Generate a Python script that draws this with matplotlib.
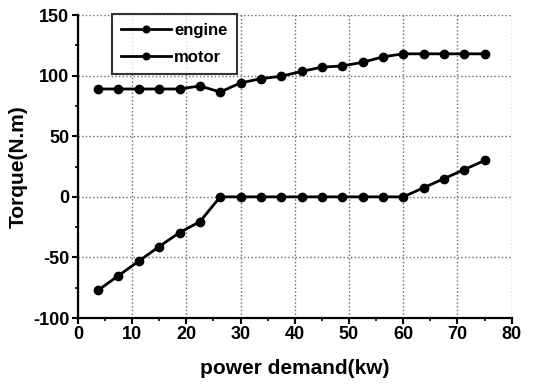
import numpy as np
import matplotlib
matplotlib.use('Agg')
import matplotlib.pyplot as plt
from matplotlib.ticker import MultipleLocator

# power demand (kW), one sample every 3.75 kW
power = [3.75, 7.5, 11.25, 15, 18.75, 22.5, 26.25, 30, 33.75, 37.5,
         41.25, 45, 48.75, 52.5, 56.25, 60, 63.75, 67.5, 71.25, 75]
engine = [89, 89, 89, 89, 89, 91.5, 86.5, 94, 97.5, 99.5,
          103.5, 107, 108, 111, 115.5, 118, 118, 118, 118, 118]
motor = [-77, -65, -53, -41, -29.5, -20.5, 0, 0, 0, 0,
         0, 0, 0, 0, 0, 0, 7.5, 15, 22.5, 30]

plt.rcParams['font.family'] = ['Liberation Sans', 'DejaVu Sans']
plt.rcParams['font.weight'] = 'bold'
plt.rcParams['axes.unicode_minus'] = False

fig = plt.figure(figsize=(5.33, 3.86), dpi=100)
ax = fig.add_axes([0.146, 0.176, 0.814, 0.785])

ax.plot(power, engine, color='k', linewidth=2.0, marker='o', markersize=6, label='engine')
ax.plot(power, motor, color='k', linewidth=2.0, marker='o', markersize=6, label='motor')

ax.set_xlim(0, 80)
ax.set_ylim(-100, 150)
ax.xaxis.set_major_locator(MultipleLocator(10))
ax.xaxis.set_minor_locator(MultipleLocator(5))
ax.yaxis.set_major_locator(MultipleLocator(50))
ax.yaxis.set_minor_locator(MultipleLocator(25))
ax.tick_params(which='major', length=4, width=1.5, labelsize=13, pad=2)
ax.tick_params(which='minor', length=2.5, width=1.2)
for lab in ax.get_xticklabels() + ax.get_yticklabels():
    lab.set_fontweight('bold')

ax.spines['top'].set_visible(False)
ax.spines['right'].set_visible(False)
ax.spines['left'].set_linewidth(1.6)
ax.spines['bottom'].set_linewidth(1.6)

ax.grid(True, which='major', linestyle=':', color='0.4', linewidth=1.0)

ax.set_xlabel('power demand(kw)', fontsize=15, fontweight='bold', labelpad=11)
ax.set_ylabel('Torque(N.m)', fontsize=15, fontweight='bold', labelpad=4)

leg = ax.legend(loc='upper left', bbox_to_anchor=(0.078, 1.005), fontsize=12,
                frameon=True, fancybox=False, edgecolor='k', handlelength=3,
                borderpad=0.55, labelspacing=0.75, handletextpad=0.2,
                borderaxespad=0.0, markerscale=0.8)
leg.get_frame().set_linewidth(1.5)

fig.savefig('out.png', dpi=100)
